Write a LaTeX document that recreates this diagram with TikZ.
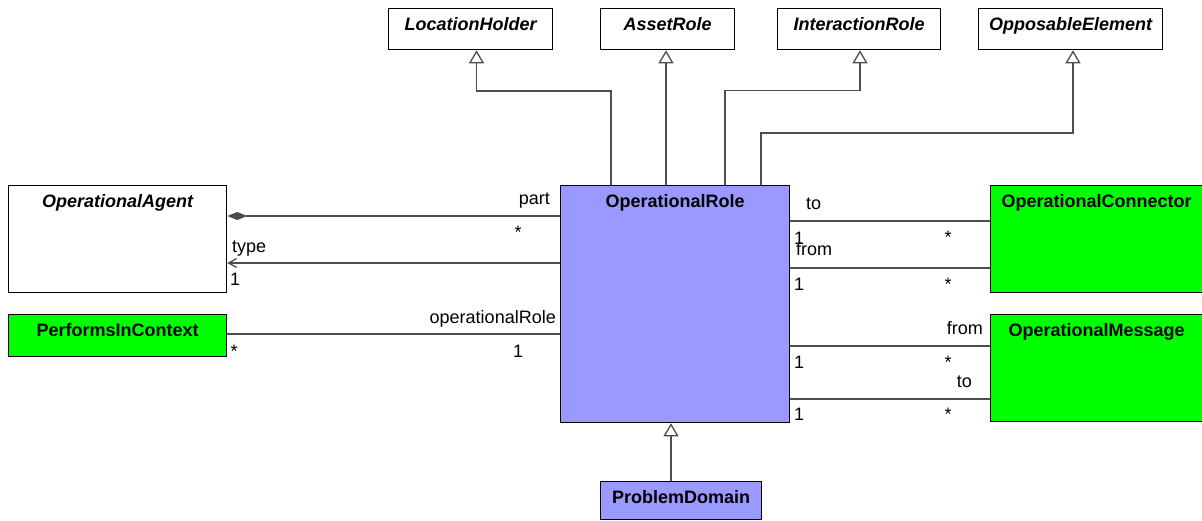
\documentclass[tikz,border=0pt]{standalone}
\usepackage{fontspec}
\setmainfont{Liberation Sans}
\usetikzlibrary{arrows.meta}
\definecolor{roleblue}{HTML}{9999FF}
\definecolor{compgreen}{HTML}{00FF00}
\definecolor{linegray}{HTML}{4D4D4D}
\begin{document}
\begin{tikzpicture}[x=1pt,y=-1pt,
  cls/.style={draw=black, line width=1.3pt, inner sep=0pt, anchor=north west, fill=white},
  bluecls/.style={cls, fill=roleblue},
  greencls/.style={cls, fill=compgreen},
  title/.style={inner sep=0pt, anchor=base, font=\fontsize{18}{21}\selectfont\bfseries},
  atitle/.style={title, font=\fontsize{18}{21}\selectfont\bfseries\itshape},
  lbl/.style={inner sep=0pt, font=\fontsize{18}{21}\selectfont},
  gen/.style={draw=linegray, line width=1.3pt, -{Triangle[open, length=13pt, width=15pt, fill=white]}},
  assoc/.style={draw=linegray, line width=1.3pt},
]
\useasboundingbox[fill=white] (0,0) rectangle (1202,520);

% classes
\node[cls, minimum width=164pt, minimum height=41pt] (lh) at (388,8) {};
\node[cls, minimum width=134pt, minimum height=41pt] (ar) at (600,8) {};
\node[cls, minimum width=163pt, minimum height=41pt] (ir) at (777,8) {};
\node[cls, minimum width=184pt, minimum height=41pt] (oe) at (978,8) {};
\node[bluecls, minimum width=229pt, minimum height=237pt] (or) at (560,185) {};
\node[cls, minimum width=218pt, minimum height=107pt] (oag) at (8,185) {};
\node[greencls, minimum width=218pt, minimum height=42pt] (pic) at (8,314) {};
\node[greencls, minimum width=214pt, minimum height=107pt] (oc) at (990,185) {};
\node[greencls, minimum width=214pt, minimum height=107pt] (om) at (990,314) {};
\node[bluecls, minimum width=161pt, minimum height=38pt] (pd) at (600,481) {};

% titles
\node[atitle] (lh-t) at ([yshift=-22.5pt]lh.north) {LocationHolder};
\node[atitle] (ar-t) at ([yshift=-22.5pt]ar.north) {AssetRole};
\node[atitle] (ir-t) at ([yshift=-22.5pt]ir.north) {InteractionRole};
\node[atitle] (oe-t) at ([yshift=-22.5pt]oe.north) {OpposableElement};
\node[title] (or-t) at ([yshift=-22.5pt]or.north) {OperationalRole};
\node[atitle] (oag-t) at ([yshift=-22.5pt]oag.north) {OperationalAgent};
\node[title] (pic-t) at ([yshift=-22.5pt]pic.north) {PerformsInContext};
\node[title] (oc-t) at ([yshift=-22.5pt,xshift=-1pt]oc.north) {OperationalConnector};
\node[title] (om-t) at ([yshift=-22.5pt,xshift=-1pt]om.north) {OperationalMessage};
\node[title] (pd-t) at ([yshift=-22.5pt]pd.north) {ProblemDomain};

% generalizations
\draw[gen] ([xshift=51pt]or.north west) -- ++(0,-94) -| ([xshift=88.5pt]lh.south west);
\draw[gen] ([xshift=106pt]or.north west) -- ([xshift=66pt]ar.south west);
\draw[gen] ([xshift=165pt]or.north west) -- ++(0,-94.5) -| ([xshift=83pt]ir.south west);
\draw[gen] ([xshift=201pt]or.north west) -- ++(0,-52) -| ([xshift=95pt]oe.south west);
\draw[gen] ([xshift=71pt]pd.north west) -- ([xshift=111pt]or.south west);

% associations
\draw[assoc, {Diamond[length=20pt,width=8pt,fill=linegray]}-] ([yshift=-31pt]oag.north east) -- ([yshift=-31pt]or.north west);
\draw[assoc, -{Straight Barb[length=8pt,width=9pt]}] ([yshift=-78pt]or.north west) -- ([yshift=-78pt]oag.north east);
\draw[assoc] ([yshift=-20pt]pic.north east) -- ([yshift=-149pt]or.north west);
\draw[assoc] ([yshift=-36pt]or.north east) -- ([yshift=-36pt]oc.north west);
\draw[assoc] ([yshift=-83pt]or.north east) -- ([yshift=-83pt]oc.north west);
\draw[assoc] ([yshift=-161pt]or.north east) -- ([yshift=-32pt]om.north west);
\draw[assoc] ([yshift=-214pt]or.north east) -- ([yshift=-85pt]om.north west);

% association labels
\node[lbl, anchor=base east] (l-part) at (550,204) {part};
\node[lbl, anchor=base] (m-part) at (518,238) {*};
\node[lbl, anchor=base west] (l-type) at (232,252) {type};
\node[lbl, anchor=base west] (m-type) at (230,285) {1};
\node[lbl, anchor=base east] (l-orole) at (556,323) {operationalRole};
\node[lbl, anchor=base] (m-orole) at (518,357) {1};
\node[lbl, anchor=base] (m-pic) at (234,357) {*};
\node[lbl, anchor=base west] (l-cto) at (806,209) {to};
\node[lbl, anchor=base west] (m-cto1) at (794,244) {1};
\node[lbl, anchor=base] (m-cto2) at (948,243) {*};
\node[lbl, anchor=base west] (l-cfrom) at (796,255) {from};
\node[lbl, anchor=base west] (m-cfrom1) at (794,290) {1};
\node[lbl, anchor=base] (m-cfrom2) at (948,290) {*};
\node[lbl, anchor=base east] (l-mfrom) at (983,334) {from};
\node[lbl, anchor=base west] (m-mfrom1) at (794,368) {1};
\node[lbl, anchor=base] (m-mfrom2) at (948,368) {*};
\node[lbl, anchor=base east] (l-mto) at (972,387) {to};
\node[lbl, anchor=base west] (m-mto1) at (794,420) {1};
\node[lbl, anchor=base] (m-mto2) at (948,420) {*};
\end{tikzpicture}
\end{document}
